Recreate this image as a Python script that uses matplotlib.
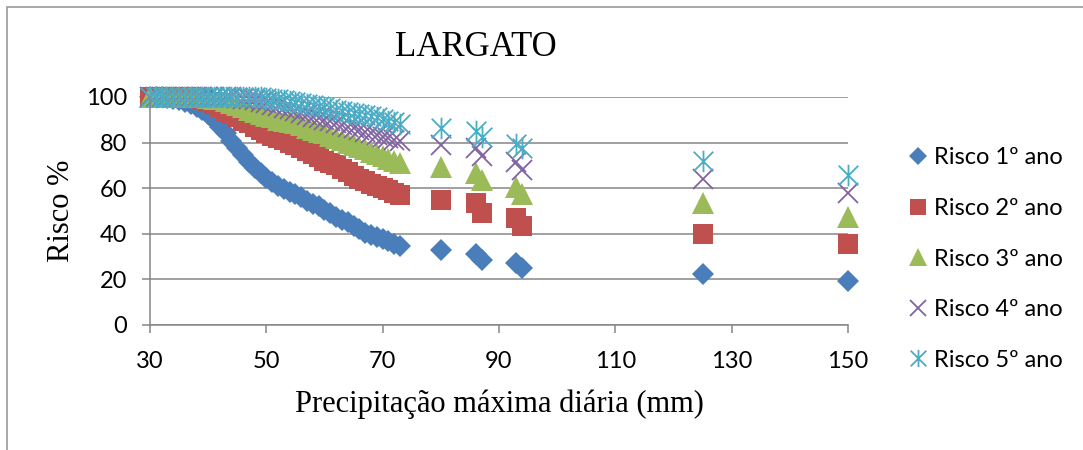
import matplotlib
matplotlib.use('Agg')
import matplotlib.pyplot as plt
from matplotlib.path import Path
from matplotlib.patches import Rectangle
from matplotlib.lines import Line2D

# Precipitação máxima diária (mm)
precip = [30, 31, 32, 33, 34, 35, 36, 37, 38, 39, 40, 41, 42, 43, 44, 45, 46, 47,
          48, 49, 50, 51, 52, 53, 54, 55, 56, 57, 58, 59, 60, 61, 62, 63, 64, 65,
          66, 67, 68, 69, 70, 71, 72, 73, 80, 86, 87, 93, 94, 125, 150]

# Risco (%) para cada horizonte
risco_1 = [100, 100, 99.8, 99.6, 99.3, 98.8, 98, 97, 95.8, 94.3, 92.5, 90, 87, 84,
           80.5, 77.5, 74.5, 71.5, 69, 66.5, 64.5, 62.5, 61, 59.5, 58.5, 57.5, 56,
           54.5, 53, 52, 50.5, 49, 47.5, 46, 45, 43.5, 42, 40.5, 39.5, 38.5, 37.5,
           37, 35.5, 34.5, 33, 31, 28.5, 27, 25, 22.5, 19.5]
risco_2 = [100, 100, 100, 100, 100, 100, 100, 100, 99.5, 99, 98, 97, 95.5, 94,
           92.5, 91, 89.5, 88.5, 87, 85.5, 84, 83, 82, 81, 80, 79, 77.5, 76.5, 75,
           73.5, 72, 71, 70, 68.5, 67, 65.5, 64, 63, 62, 61, 60, 59, 58, 57, 55,
           53.5, 49, 47, 43.5, 40, 35.5]
risco_3 = [100, 100, 100, 100, 100, 100, 100, 100, 100, 100, 99.7, 99.3, 99, 98.2,
           97.5, 96.5, 95.5, 94.5, 93.5, 92.5, 91.5, 91, 90, 89.5, 89, 88.5, 87.5,
           86.5, 85.5, 84.5, 84, 83, 82, 81, 80, 79, 78, 77, 76, 75, 74, 73, 72, 71,
           69.5, 66.5, 63.5, 60.5, 57.5, 53.5, 47.5]
risco_4 = [100, 100, 100, 100, 100, 100, 100, 100, 100, 100, 100, 100, 100, 100,
           100, 99.6, 99.3, 99, 98.5, 98, 97.3, 96.6, 96, 95.3, 94.6, 93.8, 93, 92.2,
           91.4, 90.6, 90, 89.3, 88.5, 87.8, 87, 86.3, 85.5, 84.8, 84, 83.3, 82.5,
           82, 81.3, 80.5, 79, 77.5, 74, 71.5, 68, 64, 58]
risco_5 = [100, 100, 100, 100, 100, 100, 100, 100, 100, 100, 100, 100, 100, 100,
           100, 100, 100, 100, 100, 99.8, 99.5, 99.2, 99, 98.6, 98.2, 97.8, 97.4, 97,
           96.5, 96, 95.5, 95, 94.5, 94, 93.5, 93, 92.5, 92, 91.5, 91, 90.5, 89.5,
           89, 88, 86.5, 85, 82.5, 79.5, 77.5, 72, 66]

labels = ['Risco 1º ano', 'Risco 2º ano', 'Risco 3º ano', 'Risco 4º ano', 'Risco 5º ano']
x_ticks = [30, 50, 70, 90, 110, 130, 150]
y_ticks = [0, 20, 40, 60, 80, 100]

# estrela do Excel: um x com um traço vertical
star = Path([(-0.5, -0.5), (0.5, 0.5), (-0.5, 0.5), (0.5, -0.5), (0, -0.55), (0, 0.55)],
            [Path.MOVETO, Path.LINETO, Path.MOVETO, Path.LINETO, Path.MOVETO, Path.LINETO])

styles = [
    dict(marker='D', color='#4A7EBB', ms=11.5),
    dict(marker='s', color='#C0504D', ms=15),
    dict(marker='^', color='#9BBB59', ms=15.5),
    dict(marker='x', color='#8064A2', ms=14.5, mew=1.3),
    dict(marker=star, color='#4BACC6', ms=15.5, mew=1.3),
]

grey = '#868686'
serif = 'Liberation Serif'
sans = 'Lato'

fig = plt.figure(figsize=(10.83, 4.5), dpi=100)
fig.patches.append(Rectangle((7 / 1083, -0.1), 1.2, 1.1 - 7 / 450,
                             transform=fig.transFigure, fill=False,
                             edgecolor='#9a9a9a', linewidth=1.2))

ax = fig.add_axes([0.1385, 0.2778, 0.6445, 0.5067])

series = [risco_1, risco_2, risco_3, risco_4, risco_5]
for vals, st, lab in zip(series, styles, labels):
    ax.plot(precip, vals, linestyle='none', marker=st['marker'], markersize=st['ms'],
            color=st['color'], markeredgewidth=st.get('mew', 0), clip_on=False, label=lab)

ax.set_xlim(30, 150)
ax.set_ylim(0, 100)
ax.set_xticks(x_ticks)
ax.set_yticks(y_ticks)
ax.yaxis.grid(True, color=grey, linewidth=1.1)
ax.set_axisbelow(True)
for side in ['top', 'right']:
    ax.spines[side].set_visible(False)
for side in ['left', 'bottom']:
    ax.spines[side].set_color(grey)
    ax.spines[side].set_linewidth(1.1)
ax.tick_params(axis='both', direction='out', length=5.5, width=1.1, color=grey,
               labelsize=17)
ax.tick_params(axis='x', pad=13)
ax.tick_params(axis='y', pad=11)
for t in ax.get_xticklabels() + ax.get_yticklabels():
    t.set_fontfamily(sans)

ax.set_xlabel('Precipitação máxima diária (mm)', fontfamily=serif, fontsize=22, labelpad=13)
ax.set_ylabel('Risco %', fontfamily=serif, fontsize=22, labelpad=7)
fig.text(476 / 1083, 1 - 47 / 450, 'LARGATO', fontfamily=serif, fontsize=25,
         ha='center', va='center')

handles = [Line2D([], [], linestyle='none', marker=st['marker'], color=st['color'],
                  markersize=st['ms'] * 0.8, markeredgewidth=st.get('mew', 0))
           for st in styles]
fig.legend(handles, labels, loc='center left', bbox_to_anchor=(906 / 1083, 1 - 259 / 450),
           frameon=False, prop={'family': sans, 'size': 17}, handlelength=1.0,
           handletextpad=0.2, labelspacing=1.25, borderpad=0, borderaxespad=0)

fig.savefig('out.png', dpi=100)
